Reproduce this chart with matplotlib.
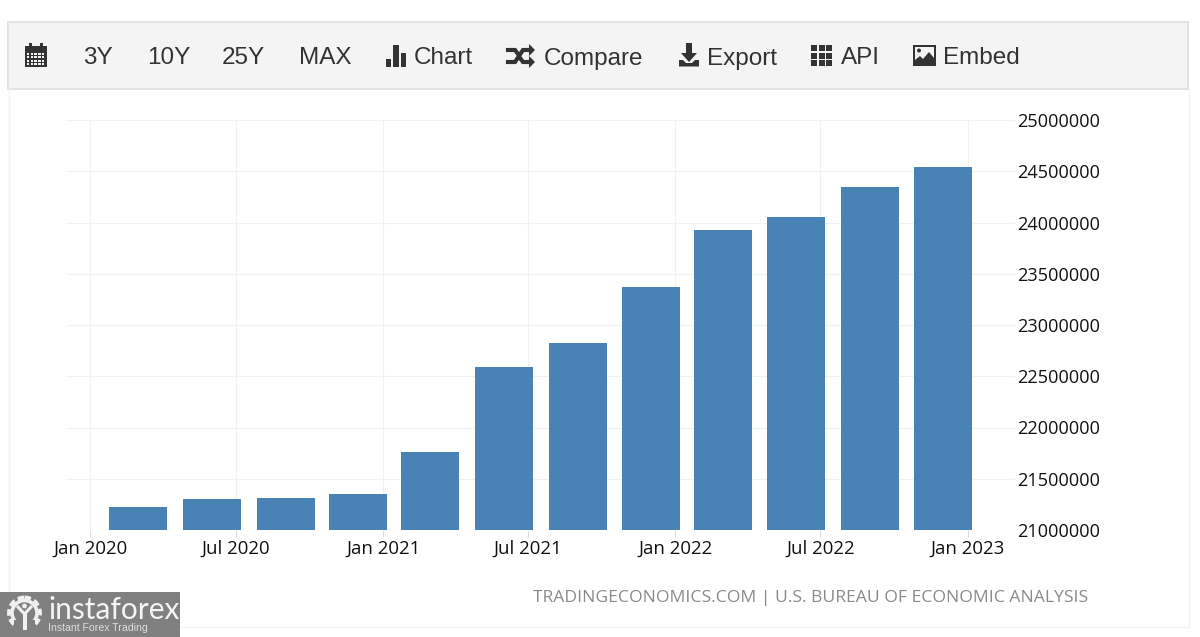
import datetime as dt
import matplotlib
matplotlib.use('Agg')
import matplotlib.pyplot as plt
import matplotlib.dates as mdates
from matplotlib.patches import Rectangle, Polygon, Circle

# quarterly values
dates = [dt.date(2020, 3, 1), dt.date(2020, 6, 1), dt.date(2020, 9, 1), dt.date(2020, 12, 1),
         dt.date(2021, 3, 1), dt.date(2021, 6, 1), dt.date(2021, 9, 1), dt.date(2021, 12, 1),
         dt.date(2022, 3, 1), dt.date(2022, 6, 1), dt.date(2022, 9, 1), dt.date(2022, 12, 1)]
values = [21229000, 21307000, 21317000, 21350000, 21760000, 22590000,
          22820000, 23370000, 23930000, 24050000, 24350000, 24540000]
y_ticks = [21000000, 21500000, 22000000, 22500000, 23000000, 23500000, 24000000, 24500000, 25000000]
x_ticks = [dt.date(2020, 1, 1), dt.date(2020, 7, 1), dt.date(2021, 1, 1), dt.date(2021, 7, 1),
           dt.date(2022, 1, 1), dt.date(2022, 7, 1), dt.date(2023, 1, 1)]
x_labels = ['Jan 2020', 'Jul 2020', 'Jan 2021', 'Jul 2021', 'Jan 2022', 'Jul 2022', 'Jan 2023']
toolbar_labels = ['3Y', '10Y', '25Y', 'MAX', 'Chart', 'Compare', 'Export', 'API', 'Embed']
toolbar_x = [83, 147, 222, 299, 414, 544, 707, 841, 943]
source = 'TRADINGECONOMICS.COM | U.S. BUREAU OF ECONOMIC ANALYSIS'

W, H = 1200, 637
DARK = '#333333'
fig = plt.figure(figsize=(12, 6.37), dpi=100, facecolor='white')

# page chrome in pixel coordinates
bg = fig.add_axes([0, 0, 1, 1])
bg.set_xlim(0, W)
bg.set_ylim(H, 0)
bg.axis('off')
bg.plot([8.5, 8.5, 1188.5, 1188.5], [89, 626.5, 626.5, 89], color='#f3f3f3', lw=1)
bg.add_patch(Rectangle((8, 22), 1180, 67, fc='#f4f4f4', ec='#e2e2e2', lw=1.4))

# chart
ax = fig.add_axes([65.5 / W, 1 - 530 / H, (1015 - 65.5) / W, 410 / H])
ax.patch.set_alpha(0)
x0 = mdates.date2num(x_ticks[0])
px_per_day = (968 - 90.5) / (mdates.date2num(x_ticks[-1]) - x0)
ax.set_xlim(x0 - 24.7 / px_per_day, x0 + (1015 - 90.2) / px_per_day)
ax.set_ylim(y_ticks[0], y_ticks[-1])
ax.bar(dates, values, width=58 / px_per_day, color='#4982b4', zorder=3)
for s in ax.spines.values():
    s.set_visible(False)
ax.grid(True, color='#f1f1f1', lw=0.8, zorder=0)
ax.set_axisbelow(True)
ax.set_xticks([mdates.date2num(d) for d in x_ticks])
ax.set_xticklabels(x_labels, fontsize=13.4, color='#111111', family='Open Sans')
ax.tick_params(axis='x', length=5, width=0.8, color='#dddddd', pad=2)
ax.yaxis.tick_right()
ax.set_yticks(y_ticks)
ax.set_yticklabels([str(v) for v in y_ticks], fontsize=13.1, color='#111111', family='Open Sans')
ax.tick_params(axis='y', length=0, pad=1.5)

# overlay for toolbar and watermark
ov = fig.add_axes([0, 0, 1, 1])
ov.set_xlim(0, W)
ov.set_ylim(H, 0)
ov.axis('off')
ov.patch.set_alpha(0)

for lab, x in zip(toolbar_labels, toolbar_x):
    ov.text(x, 58.5, lab, fontsize=17.5, color=DARK, family='Liberation Sans', ha='left', va='center')

# calendar icon
ov.add_patch(Rectangle((25, 46), 22, 21, fc=DARK, ec='none'))
ov.add_patch(Rectangle((29, 43), 3, 4, fc=DARK, ec='none'))
ov.add_patch(Rectangle((40, 43), 3, 4, fc=DARK, ec='none'))
for i in range(5):
    for j in range(4):
        ov.add_patch(Rectangle((27 + i * 3.7, 53 + j * 3.3), 2.4, 2.2, fc='#f4f4f4', ec='none'))

# chart icon
ov.add_patch(Rectangle((386, 59), 5, 8, fc=DARK, ec='none'))
ov.add_patch(Rectangle((393, 45), 6, 22, fc=DARK, ec='none'))
ov.add_patch(Rectangle((401, 53), 5, 14, fc=DARK, ec='none'))

# compare icon
ov.plot([508, 515, 523, 530], [62, 62, 50, 50], color=DARK, lw=3, solid_joinstyle='miter')
ov.plot([508, 515, 518], [50, 50, 54], color=DARK, lw=3, solid_joinstyle='miter')
ov.plot([520, 523, 530], [58, 62, 62], color=DARK, lw=3, solid_joinstyle='miter')
ov.add_patch(Polygon([[529, 44], [535, 50], [529, 56]], fc=DARK, ec='none'))
ov.add_patch(Polygon([[529, 56], [535, 62], [529, 68]], fc=DARK, ec='none'))

# export icon
ov.add_patch(Rectangle((686, 43), 6, 11, fc=DARK, ec='none'))
ov.add_patch(Polygon([[681, 53], [697, 53], [689, 62]], fc=DARK, ec='none'))
ov.add_patch(Polygon([[679, 60], [683, 60], [686, 63], [692, 63], [695, 60], [699, 60],
                      [699, 66.5], [679, 66.5]], fc=DARK, ec='none'))

# api icon
for i in range(3):
    for j in range(3):
        ov.add_patch(Rectangle((811 + i * 7.6, 45 + j * 7.6), 6.2, 6.2, fc=DARK, ec='none'))

# embed icon
ov.add_patch(Rectangle((913, 45), 23, 21, fc=DARK, ec='none'))
ov.add_patch(Rectangle((915, 47), 19, 17, fc='#f4f4f4', ec='none'))
ov.add_patch(Polygon([[915, 64], [915, 60], [920, 56], [923, 59], [929, 52], [934, 58], [934, 64]],
                     fc=DARK, ec='none'))
ov.add_patch(Circle((919, 50.5), 2, fc=DARK, ec='none'))

ov.text(533, 598, source, fontsize=12.6, color='#8a8a8a', family='Open Sans', ha='left', va='center')

# watermark
LIGHT = '#f0f0f0'
ov.add_patch(Rectangle((0, 592), 180, 45, fc='#808080', ec='none'))
ov.add_patch(Circle((24.5, 613), 15, fc='none', ec=LIGHT, lw=3.5, ls=(0, (1.3, 0.7))))
ov.add_patch(Circle((24.5, 613), 12.5, fc='none', ec=LIGHT, lw=2.6))
ov.add_patch(Rectangle((14, 620), 21, 12, fc='#808080', ec='none'))
ov.add_patch(Rectangle((22.5, 612), 4, 18, fc=LIGHT, ec='none'))
ov.plot([18, 24.5, 31], [607, 614, 607], color=LIGHT, lw=2.2)
ov.add_patch(Circle((24.5, 606), 2.4, fc=LIGHT, ec='none'))
ov.text(48, 610, 'instaforex', fontsize=21.5, color='#f4f4f4', family='Lato', ha='left', va='center')
ov.text(48, 628, 'Instant Forex Trading', fontsize=7.6, color='#dddddd', family='Liberation Sans',
        ha='left', va='center')

fig.savefig('out.png', dpi=100, facecolor='white')
